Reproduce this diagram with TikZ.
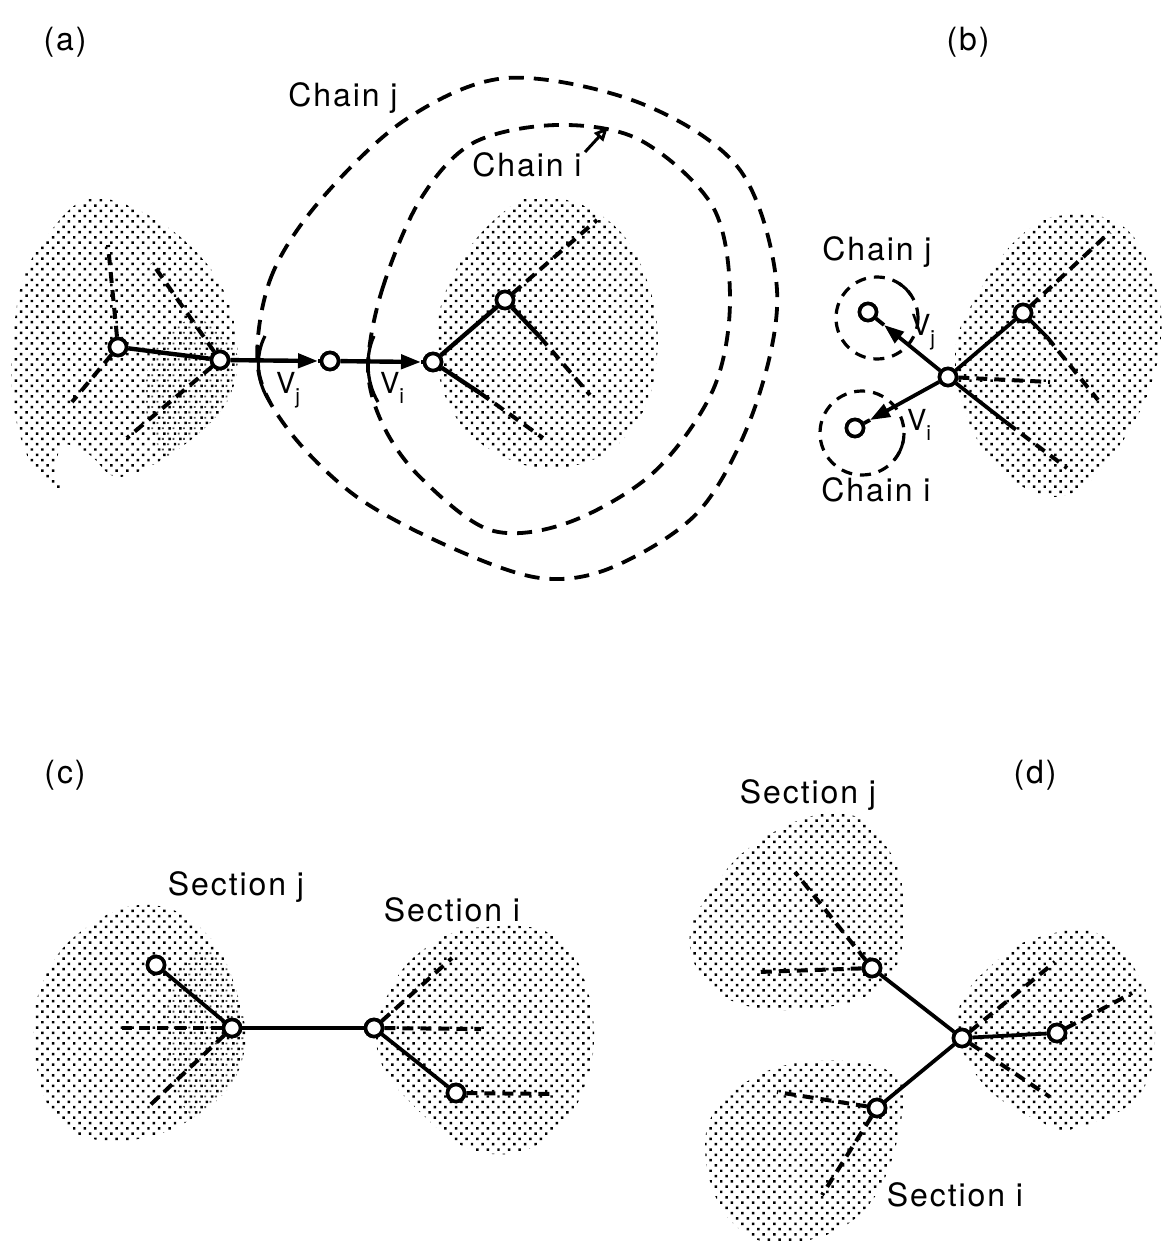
\documentclass[tikz,border=0pt]{standalone}
\usepackage{fontspec}
\setmainfont{TeX Gyre Heros}
\newfontfamily\lblfont[LetterSpace=6]{TeX Gyre Heros}
\usetikzlibrary{arrows.meta,patterns.meta}
\newcommand{\pAL}{plot[smooth cycle, tension=0.6] coordinates {(93,198) (160,222) (215,275) (237,340) (228,400) (180,448) (120,477) (90,455) (64,445) (55,470) (60,490) (30,462) (12,390) (20,290) (50,232)}}
\newcommand{\pAR}{plot[smooth cycle, tension=0.7] coordinates {(543,197) (605,218) (645,275) (657,357) (630,432) (567,467) (500,455) (450,407) (437,333) (457,268) (500,215)}}
\newcommand{\pB}{plot[smooth cycle, tension=0.7] coordinates {(1070,215) (1125,228) (1155,285) (1160,345) (1138,415) (1085,485) (1035,492) (982,448) (955,360) (980,290) (1025,232)}}
\newcommand{\pCL}{plot[smooth cycle, tension=0.7] coordinates {(150,905) (205,932) (236,990) (243,1057) (205,1110) (130,1140) (60,1122) (34,1045) (46,975) (90,925)}}
\newcommand{\pCR}{plot[smooth cycle, tension=0.7] coordinates {(484,927) (556,937) (590,1000) (587,1080) (545,1140) (480,1152) (420,1112) (378,1053) (390,990) (430,945)}}
\newcommand{\pDJ}{plot[smooth cycle, tension=0.7] coordinates {(840,813) (887,847) (905,913) (887,980) (820,1008) (730,1000) (690,947) (713,888) (765,837)}}
\newcommand{\pDI}{plot[smooth cycle, tension=0.7] coordinates {(797,1063) (887,1070) (902,1115) (867,1207) (790,1243) (730,1220) (705,1147) (730,1095)}}
\newcommand{\pDR}{plot[smooth cycle, tension=0.7] coordinates {(1097,933) (1140,978) (1155,1040) (1137,1097) (1080,1127) (1043,1123) (980,1080) (958,1013) (1000,958) (1047,935)}}
\begin{document}
\begin{tikzpicture}[x=1pt,y=-1pt,
  vtx/.style={circle, draw, line width=3.6pt, fill=white, minimum size=17pt, inner sep=0pt},
  edg/.style={line width=4.4pt},
  sol/.style={line width=3.8pt},
  brd/.style={line width=4pt, dash pattern=on 11pt off 7pt},
  chain/.style={line width=3.8pt, dash pattern=on 15pt off 10pt},
  ring/.style={line width=3.2pt, dash pattern=on 11pt off 8pt},
  lbl/.style={font=\lblfont\fontsize{32}{35}\selectfont, inner sep=0pt},
  vlbl/.style={font=\fontsize{29}{31}\selectfont, inner sep=0pt},
  tip/.style={-{Triangle[length=20pt,width=14pt]}},
  blob/.style={pattern={Dots[distance=7.5pt,radius=1.75pt,angle=45]}, pattern color=black},
  blobd/.style={pattern={Dots[distance=7.5pt,radius=1.3pt,angle=45,xshift=3.75pt]}, pattern color=black!70}
]
\useasboundingbox (0,0) rectangle (1162,1245);
\fill[white] (0,0) rectangle (1162,1245);

% ---------- shaded regions ----------
\path[blob] \pAL;
\begin{scope}\clip \pAL; \fill[blobd] (195,395) ellipse [x radius=50, y radius=75]; \end{scope}
\path[blob] \pAR;
\path[blob] \pB;
\path[blob] \pCL;
\begin{scope}\clip \pCL; \fill[blobd] (205,1035) ellipse [x radius=40, y radius=85]; \end{scope}
\path[blob] \pCR;
\path[blob] \pDJ;
\path[blob] \pDI;
\path[blob] \pDR;

% ---------- labels ----------
\node[lbl] (la) at (65,42) {(a)};
\node[lbl] (lb) at (968,42) {(b)};
\node[lbl] (lc) at (65,775) {(c)};
\node[lbl] (ld) at (1035,775) {(d)};

% ---------- panel (a) ----------
\draw[chain] plot[smooth cycle, tension=0.55] coordinates {(258,368) (270,280) (318,203) (405,120) (507,78) (640,103) (740,170) (777,290) (755,407) (700,510) (613,567) (540,578) (450,547) (357,497) (290,432)};
\draw[chain] plot[smooth cycle, tension=0.55] coordinates {(368,368) (382,290) (420,200) (473,143) (557,125) (640,140) (713,207) (730,300) (713,390) (653,473) (567,523) (490,530) (420,477) (383,425)};
\draw[line width=3.2pt] (265,336) .. controls (255,355) and (256,382) .. (270,402);
\draw[line width=3.2pt] (374,336) .. controls (365,355) and (366,382) .. (378,402);
\node[lbl] (chj) at (343,98) {Chain j};
\node[lbl] (chi) at (527,165) {Chain i};
\coordinate (arA) at (585,152);
\coordinate (arB) at (608,127);
\draw[line width=3pt, -{Triangle[open,length=14pt,width=12pt,line width=3pt]}] (arA) -- (arB);

\node[vtx] (L1) at (118,347) {};
\node[vtx] (L2) at (220,360) {};
\node[vtx] (M)  at (330,361) {};
\node[vtx] (R1) at (433,362) {};
\node[vtx] (R2) at (505,300) {};
\coordinate (tM) at (318,361);
\coordinate (tR) at (421,362);
\coordinate (l1u) at (108,245);
\coordinate (l1d) at (72,402);
\coordinate (l2u) at (152,263);
\coordinate (l2d) at (127,438);
\coordinate (r2u) at (597,220);
\coordinate (r2m) at (540,337);
\coordinate (r2d) at (590,395);
\coordinate (r1m) at (480,393);
\coordinate (r1d) at (543,438);
\draw[brd] (L1) -- (l1u);
\draw[brd] (L1) -- (l1d);
\draw[brd] (L2) -- (l2u);
\draw[brd] (L2) -- (l2d);
\draw[edg] (L1) -- (L2);
\draw[edg,tip] (L2) -- (tM);
\draw[edg] (tM) -- (M);
\draw[edg,tip] (M) -- (tR);
\draw[edg] (tR) -- (R1);
\draw[edg] (R1) -- (R2);
\draw[brd] (R2) -- (r2u);
\draw[edg] (R2) -- (r2m);
\draw[brd] (r2m) -- (r2d);
\draw[edg] (R1) -- (r1m);
\draw[brd] (r1m) -- (r1d);
\node[vtx] at (L1) {};
\node[vtx] at (L2) {};
\node[vtx] at (M) {};
\node[vtx] at (R1) {};
\node[vtx] at (R2) {};
\node[vlbl] (vja) at (288,390) {V\raisebox{-0.35em}{\fontsize{21}{22}\selectfont j}};
\node[vlbl] (via) at (392,388) {V\raisebox{-0.35em}{\fontsize{21}{22}\selectfont i}};

% ---------- panel (b) ----------
\node[lbl] (chjb) at (877,252) {Chain j};
\node[lbl] (chib) at (876,490) {Chain i};
\draw[ring] (877,318) circle [radius=41];
\draw[ring] (862,433) circle [radius=42];
\draw[line width=3pt] (877,318) ++(-58:41) arc[start angle=-58, end angle=-34, radius=41];
\draw[line width=3pt] (862,433) ++(12:42) arc[start angle=12, end angle=40, radius=42];
\node[vtx] (C)  at (948,377) {};
\node[vtx] (Cj) at (868,312) {};
\node[vtx] (Ci) at (855,428) {};
\node[vtx] (B2) at (1023,313) {};
\coordinate (tCj) at (884,325);
\coordinate (tCi) at (870,420);
\coordinate (b2u) at (1110,232);
\coordinate (b2m) at (1047,337);
\coordinate (b2d) at (1098,400);
\coordinate (cr) at (1050,382);
\coordinate (cdm) at (1007,423);
\coordinate (cd) at (1067,468);
\draw[sol,tip] (C) -- (tCj);
\draw[sol] (tCj) -- (Cj);
\draw[sol,tip] (C) -- (tCi);
\draw[sol] (tCi) -- (Ci);
\draw[sol] (C) -- (B2);
\draw[brd] (B2) -- (b2u);
\draw[sol] (B2) -- (b2m);
\draw[brd] (b2m) -- (b2d);
\draw[brd] (C) -- (cr);
\draw[sol] (C) -- (cdm);
\draw[brd] (cdm) -- (cd);
\node[vtx] at (C) {};
\node[vtx] at (Cj) {};
\node[vtx] at (Ci) {};
\node[vtx] at (B2) {};
\node[vlbl] (vjb) at (923,332) {V\raisebox{-0.35em}{\fontsize{21}{22}\selectfont j}};
\node[vlbl] (vib) at (919,425) {V\raisebox{-0.35em}{\fontsize{21}{22}\selectfont i}};

% ---------- panel (c) ----------
\node[lbl] (scj) at (236,887) {Section j};
\node[lbl] (sci) at (452,910) {Section i};
\node[vtx] (P1) at (156,965) {};
\node[vtx] (J)  at (232,1028) {};
\node[vtx] (K)  at (374,1028) {};
\node[vtx] (Q)  at (456,1093) {};
\coordinate (jl) at (122,1028);
\coordinate (jd) at (147,1108);
\coordinate (ku) at (452,958);
\coordinate (kr) at (481,1029);
\coordinate (qr) at (556,1094);
\draw[brd] (J) -- (jl);
\draw[brd] (J) -- (jd);
\draw[sol] (J) -- (P1);
\draw[sol] (J) -- (K);
\draw[brd] (K) -- (ku);
\draw[brd] (K) -- (kr);
\draw[sol] (K) -- (Q);
\draw[brd] (Q) -- (qr);
\node[vtx] at (P1) {};
\node[vtx] at (J) {};
\node[vtx] at (K) {};
\node[vtx] at (Q) {};

% ---------- panel (d) ----------
\node[lbl] (sdj) at (808,795) {Section j};
\node[lbl] (sdi) at (955,1195) {Section i};
\node[vtx] (Dj) at (872,968) {};
\node[vtx] (Dc) at (962,1038) {};
\node[vtx] (Dr) at (1057,1033) {};
\node[vtx] (Di) at (877,1108) {};
\coordinate (dju) at (795,872);
\coordinate (djl) at (758,972);
\coordinate (dcu) at (1055,962);
\coordinate (dru) at (1132,993);
\coordinate (dcd) at (1050,1097);
\coordinate (dil) at (777,1092);
\coordinate (did) at (822,1195);
\draw[sol] (Dj) -- (Dc);
\draw[sol] (Di) -- (Dc);
\draw[sol] (Dc) -- (Dr);
\draw[brd] (Dj) -- (dju);
\draw[brd] (Dj) -- (djl);
\draw[brd] (Dc) -- (dcu);
\draw[brd] (Dr) -- (dru);
\draw[brd] (Dc) -- (dcd);
\draw[brd] (Di) -- (dil);
\draw[brd] (Di) -- (did);
\node[vtx] at (Dj) {};
\node[vtx] at (Dc) {};
\node[vtx] at (Dr) {};
\node[vtx] at (Di) {};
\end{tikzpicture}
\end{document}
